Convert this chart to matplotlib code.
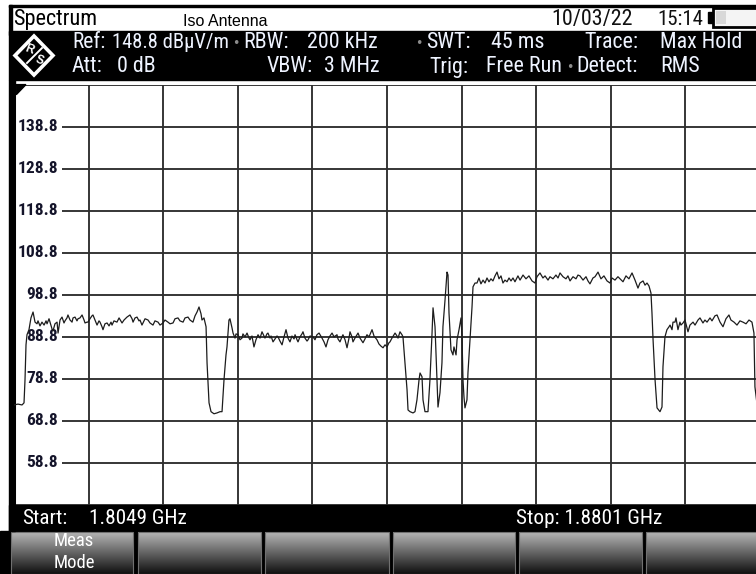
import numpy as np
import matplotlib
matplotlib.use("Agg")
import matplotlib.pyplot as plt
from matplotlib import font_manager
from matplotlib.patches import Rectangle, Polygon

# =====================================================================
# 1. DATA
# =====================================================================
start_ghz = 1.8049
stop_ghz = 1.8801
ref_level = 148.8
div_db = 10.0

# horizontal graticule levels (dBuV/m) and the labels shown on screen
grid_levels = [48.8, 58.8, 68.8, 78.8, 88.8, 98.8, 108.8, 118.8, 128.8, 138.8, 148.8]
level_labels = ["58.8", "68.8", "78.8", "88.8", "98.8", "108.8", "118.8", "128.8", "138.8"]

# Max Hold trace, frequency in MHz
trace_freq_mhz = [
    1804.90, 1805.30, 1805.71, 1805.91, 1806.01, 1806.11, 1806.21, 1806.41, 1806.61, 1806.82,
    1807.02, 1807.22, 1807.32, 1807.52, 1807.72, 1807.93, 1808.13, 1808.23, 1808.43, 1808.53,
    1808.73, 1808.83, 1809.03, 1809.24, 1809.34, 1809.54, 1809.74, 1809.94, 1810.04, 1810.24,
    1810.34, 1810.55, 1810.75, 1810.85, 1811.05, 1811.25, 1811.35, 1811.55, 1811.76, 1811.96,
    1812.06, 1812.26, 1812.36, 1812.56, 1812.76, 1812.86, 1813.07, 1813.27, 1813.47, 1813.57,
    1813.77, 1813.87, 1814.07, 1814.28, 1814.48, 1814.68, 1814.78, 1814.98, 1815.28, 1815.49,
    1815.79, 1815.99, 1816.29, 1816.59, 1816.80, 1816.90, 1817.10, 1817.30, 1817.50, 1817.60,
    1817.80, 1817.90, 1818.11, 1818.41, 1818.61, 1818.91, 1819.11, 1819.42, 1819.62, 1819.92,
    1820.12, 1820.42, 1820.63, 1820.93, 1821.13, 1821.43, 1821.63, 1821.94, 1822.14, 1822.44,
    1822.64, 1822.94, 1823.15, 1823.35, 1823.55, 1823.75, 1823.85, 1824.05, 1824.26, 1824.36,
    1824.56, 1824.76, 1825.06, 1825.36, 1825.67, 1825.87, 1826.07, 1826.27, 1826.37, 1826.57,
    1826.67, 1826.88, 1826.98, 1827.18, 1827.28, 1827.48, 1827.68, 1827.88, 1827.98, 1828.19,
    1828.39, 1828.59, 1828.69, 1828.89, 1829.09, 1829.29, 1829.50, 1829.70, 1829.90, 1830.10,
    1830.20, 1830.40, 1830.50, 1830.71, 1830.81, 1831.01, 1831.21, 1831.41, 1831.51, 1831.71,
    1831.92, 1832.12, 1832.32, 1832.52, 1832.72, 1832.92, 1833.13, 1833.23, 1833.43, 1833.53,
    1833.73, 1833.93, 1834.03, 1834.23, 1834.44, 1834.54, 1834.74, 1835.04, 1835.24, 1835.44,
    1835.65, 1835.95, 1836.15, 1836.35, 1836.55, 1836.75, 1836.96, 1837.16, 1837.46, 1837.56,
    1837.76, 1837.96, 1838.06, 1838.27, 1838.47, 1838.67, 1838.77, 1838.97, 1839.07, 1839.27,
    1839.58, 1839.78, 1840.08, 1840.28, 1840.48, 1840.69, 1840.99, 1841.19, 1841.49, 1841.69,
    1841.89, 1842.10, 1842.30, 1842.50, 1842.70, 1842.80, 1843.00, 1843.31, 1843.51, 1843.61,
    1843.81, 1844.01, 1844.11, 1844.31, 1844.52, 1844.62, 1844.82, 1845.12, 1845.32, 1845.52,
    1845.73, 1845.83, 1846.03, 1846.13, 1846.33, 1846.63, 1846.83, 1847.04, 1847.14, 1847.34,
    1847.54, 1847.64, 1847.84, 1848.04, 1848.14, 1848.35, 1848.55, 1848.65, 1848.75, 1848.95,
    1849.15, 1849.25, 1849.46, 1849.56, 1849.76, 1849.96, 1850.06, 1850.16, 1850.26, 1850.36,
    1850.56, 1850.66, 1850.87, 1851.07, 1851.17, 1851.37, 1851.57, 1851.77, 1851.97, 1852.18,
    1852.38, 1852.58, 1852.78, 1852.98, 1853.18, 1853.39, 1853.59, 1853.79, 1853.99, 1854.19,
    1854.39, 1854.60, 1854.80, 1855.00, 1855.20, 1855.40, 1855.70, 1855.91, 1856.21, 1856.51,
    1856.81, 1857.12, 1857.42, 1857.62, 1857.92, 1858.22, 1858.43, 1858.73, 1858.93, 1859.23,
    1859.53, 1859.74, 1859.94, 1860.24, 1860.54, 1860.74, 1860.95, 1861.25, 1861.55, 1861.75,
    1861.95, 1862.26, 1862.56, 1862.76, 1862.96, 1863.26, 1863.47, 1863.77, 1864.07, 1864.37,
    1864.68, 1864.98, 1865.18, 1865.48, 1865.78, 1865.99, 1866.29, 1866.59, 1866.89, 1867.20,
    1867.50, 1867.80, 1868.00, 1868.31, 1868.51, 1868.71, 1868.91, 1869.11, 1869.21, 1869.32,
    1869.52, 1869.72, 1870.02, 1870.22, 1870.32, 1870.52, 1870.72, 1870.93, 1871.03, 1871.23,
    1871.33, 1871.53, 1871.63, 1871.83, 1872.03, 1872.13, 1872.34, 1872.54, 1872.84, 1873.04,
    1873.35, 1873.55, 1873.85, 1874.05, 1874.35, 1874.55, 1874.76, 1875.06, 1875.26, 1875.56,
    1875.77, 1876.07, 1876.37, 1876.67, 1876.97, 1877.17, 1877.48, 1877.78, 1878.08, 1878.38,
    1878.69, 1878.99, 1879.29, 1879.49, 1879.59, 1879.80, 1879.99,
]

# level in dBuV/m, same order as trace_freq_mhz
trace_level = [
    72.6, 72.8, 72.6, 73.1, 78.6, 86.9, 89.3, 90.5, 93.3, 94.7,
    92.3, 91.9, 92.6, 91.4, 92.3, 91.6, 92.6, 91.9, 93.1, 92.3,
    90.7, 90.2, 91.9, 92.3, 89.7, 92.8, 93.5, 92.1, 92.6, 93.3,
    94.0, 92.8, 92.3, 93.3, 93.5, 92.6, 93.1, 93.3, 94.0, 92.8,
    92.1, 92.3, 92.3, 93.1, 93.8, 94.0, 92.8, 91.6, 92.6, 92.3,
    91.2, 90.5, 91.9, 92.1, 91.4, 92.3, 91.6, 92.6, 92.3, 93.3,
    92.1, 92.8, 93.5, 94.0, 93.1, 92.3, 93.3, 93.5, 92.6, 92.8,
    91.6, 92.1, 93.1, 92.8, 92.1, 91.6, 92.6, 92.3, 91.6, 92.1,
    92.8, 92.3, 91.9, 92.1, 93.1, 93.3, 92.6, 92.3, 93.3, 93.5,
    92.8, 92.3, 93.8, 94.7, 95.9, 94.3, 92.8, 93.3, 91.2, 82.6,
    73.1, 71.0, 70.5, 70.7, 71.0, 71.0, 78.6, 84.5, 86.4, 92.8,
    93.1, 90.9, 89.7, 88.5, 89.5, 89.3, 88.1, 88.5, 89.5, 88.8,
    89.7, 88.5, 88.1, 89.0, 86.4, 88.1, 89.3, 88.5, 90.0, 89.0,
    88.5, 89.5, 89.7, 88.5, 89.0, 87.6, 88.3, 89.0, 88.8, 87.8,
    86.9, 88.8, 90.5, 88.5, 87.6, 89.0, 88.3, 89.3, 88.1, 87.6,
    88.8, 89.5, 90.0, 88.5, 87.8, 88.1, 89.0, 88.8, 88.1, 89.3,
    89.7, 88.5, 87.6, 86.4, 88.1, 89.0, 89.7, 88.8, 89.3, 88.3,
    87.6, 88.8, 89.3, 88.1, 86.2, 88.5, 90.0, 88.8, 87.6, 88.5,
    89.7, 88.5, 87.4, 88.3, 89.3, 88.8, 90.5, 89.0, 88.1, 87.1,
    86.6, 86.2, 86.9, 86.4, 87.4, 87.6, 88.5, 89.7, 89.0, 88.5,
    90.0, 89.3, 88.8, 82.6, 76.2, 71.4, 71.0, 70.7, 71.0, 73.8,
    78.6, 80.2, 79.3, 73.8, 71.0, 71.0, 78.6, 89.7, 95.7, 91.2,
    78.6, 72.1, 75.5, 82.6, 91.2, 97.6, 104.2, 103.5, 94.5, 85.7,
    84.5, 86.4, 84.5, 88.1, 90.5, 93.3, 88.8, 78.6, 74.5, 71.9,
    73.8, 80.2, 88.1, 95.9, 100.7, 101.6, 101.6, 102.8, 101.4, 102.3,
    101.6, 102.8, 101.9, 102.6, 102.1, 103.3, 104.2, 102.6, 103.3, 101.6,
    102.3, 101.9, 102.8, 102.1, 102.8, 101.9, 103.3, 102.3, 103.5, 102.6,
    103.3, 102.1, 101.6, 103.1, 104.0, 102.8, 103.3, 102.3, 103.1, 102.6,
    103.5, 102.8, 104.0, 103.1, 102.6, 103.3, 102.1, 103.1, 102.6, 103.5,
    103.3, 102.3, 103.1, 102.1, 101.4, 102.8, 103.1, 104.2, 102.6, 103.3,
    102.1, 101.6, 102.8, 102.3, 103.1, 102.6, 101.9, 103.3, 102.6, 104.0,
    102.3, 100.4, 101.6, 102.1, 101.1, 101.6, 100.9, 99.2, 94.5, 88.1,
    78.6, 71.9, 71.0, 72.1, 81.7, 88.8, 90.5, 91.2, 91.6, 90.5,
    92.3, 92.3, 93.3, 90.5, 92.3, 91.6, 92.1, 92.8, 90.0, 91.6,
    92.3, 91.6, 92.8, 93.3, 92.1, 92.8, 92.3, 93.3, 92.6, 93.8,
    94.0, 92.3, 91.2, 93.1, 94.0, 92.8, 92.3, 91.6, 92.6, 92.3,
    91.9, 92.8, 92.3, 89.7, 76.9, 72.8, 72.6,
]

# =====================================================================
# 2. FONTS AND SCREEN GEOMETRY (pixels of the 756x574 screenshot)
# =====================================================================
installed = {f.name for f in font_manager.fontManager.ttflist}
NARROW, SCALE = "Liberation Sans", 0.93
for name in ["Liberation Sans Narrow", "Roboto Condensed", "Arial Narrow"]:
    if name in installed:
        NARROW, SCALE = name, 1.0
        break
REGULAR = "Liberation Sans"

W, H = 756, 574
PLOT_L, PLOT_R, PLOT_T, PLOT_B = 14, 760, 84.6, 505

fig = plt.figure(figsize=(W / 100, H / 100), dpi=100)
fig.patch.set_facecolor("white")

# overlay in pixel coordinates for the instrument frame
deco = fig.add_axes([0, 0, 1, 1], zorder=0)
deco.axis("off")


def label(x, y, s, size, color="white", family=None, ha="left", weight="normal"):
    deco.text(x, y, s, fontsize=size * SCALE if family in (None, NARROW) else size,
              color=color, family=family or NARROW, ha=ha, va="center", weight=weight)


# title strip
deco.add_patch(Rectangle((9, 4.5), W, 2.5, color="black"))
deco.add_patch(Rectangle((9, 4.5), 2.8, 30, color="black"))
label(13, 19.5, "Spectrum", 16, color="black")
label(183, 22, "Iso Antenna", 11.5, color="black", family=REGULAR)
label(551, 19.5, "10/03/22", 15.8, color="#111111")
label(657, 19.5, "15:14", 15.0, color="#111111")
deco.add_patch(Rectangle((708, 12), 5, 11, color="black"))
deco.add_patch(Rectangle((713, 8), 50, 19, facecolor="#f4f4f4", edgecolor="black", lw=2))
deco.add_patch(Rectangle((716, 11), 10, 13, facecolor="#d8d8d8", edgecolor="none"))

# black settings header
deco.add_patch(Rectangle((9, 31), W, 49, color="black"))
deco.add_patch(Polygon([(34, 36), (53, 55.5), (34, 75), (15, 55.5)], closed=True,
                       facecolor="black", edgecolor="white", lw=2.6))
deco.text(29, 50, "R", fontsize=8.5, color="white", weight="bold", family=REGULAR,
          ha="center", va="center", rotation=-20)
deco.text(39.5, 61, "S", fontsize=8.5, color="white", weight="bold", family=REGULAR,
          ha="center", va="center", rotation=-20)
deco.plot([27, 42], [63, 48], color="white", lw=1.4)

TXT = "#eef3ff"
DOT = "#8c8c8c"
row1, row2 = 43, 67
label(72, row1, "Ref:", 15.5, color=TXT)
label(112, row1, "148.8 dBµV/m", 14.8, color=TXT)
for s, x in [("RBW:", 243), ("200 kHz", 307), ("SWT:", 426), ("45 ms", 491),
             ("Trace:", 584), ("Max Hold", 660)]:
    label(x, row1, s, 15.8, color=TXT)
for s, x in [("Att:", 72), ("0 dB", 117), ("VBW:", 267), ("3 MHz", 324),
             ("Trig:", 429), ("Free Run", 486), ("Detect:", 576), ("RMS", 660)]:
    label(x, row2, s, 15.8, color=TXT)
for x, y in [(236, row1), (419, row1), (570, row2)]:
    deco.text(x, y, "\u2022", fontsize=9, color=DOT, ha="center", va="center")

# start / stop bar
deco.add_patch(Rectangle((9, PLOT_B), W, 26, color="black"))
label(22, 518, "Start:", 15.3)
label(89, 518, f"{start_ghz:.4f} GHz", 15.3)
label(516, 518, f"Stop: {stop_ghz:.4f} GHz", 15.3)

# soft key row
deco.add_patch(Rectangle((0, 531), W, 43, color="black"))
grad = np.linspace(0, 1, 64).reshape(-1, 1)
for x0, x1 in [(11, 133), (138, 261), (265, 389), (393, 515), (519, 642), (646, 760)]:
    deco.imshow(grad, cmap="gray_r", vmin=-0.45, vmax=1.1, aspect="auto",
                extent=(x0, x1, 574, 532), zorder=1)
    deco.add_patch(Rectangle((x0, 532), x1 - x0, 42, fill=False, edgecolor="#707070",
                             lw=0.8, zorder=2))
label(74, 541, "Meas", 13.5, ha="center")
label(74, 563, "Mode", 13.5, ha="center")

# left frame edge beside the trace window
deco.add_patch(Rectangle((9, 80), 6, 451, color="black", zorder=3))
deco.set_xlim(0, W)
deco.set_ylim(H, 0)

# =====================================================================
# 3. TRACE WINDOW
# =====================================================================
ax = fig.add_axes([PLOT_L / W, 1 - PLOT_B / H, (PLOT_R - PLOT_L) / W,
                   (PLOT_B - PLOT_T) / H], zorder=1)
ax.set_facecolor("white")
ax.set_xlim(start_ghz * 1000, stop_ghz * 1000)
ax.set_ylim(ref_level - 10 * div_db, ref_level)

ax.set_xticks(np.linspace(start_ghz * 1000, stop_ghz * 1000, 11))
ax.set_yticks(grid_levels)
ax.tick_params(length=0, labelbottom=False, labelleft=False)
ax.set_axisbelow(True)
ax.grid(True, color="#2e2e2e", lw=1.35)

for side in ["top", "right", "bottom"]:
    ax.spines[side].set_visible(False)
ax.spines["left"].set_color("black")
ax.spines["left"].set_linewidth(2.2)

# level labels sit on the graticule with a white patch behind them
ytrans = ax.get_yaxis_transform()
label_right = (58 - PLOT_L) / (PLOT_R - PLOT_L)
mask_right = (62 - PLOT_L) / (PLOT_R - PLOT_L)
for s in level_labels:
    ax.add_patch(Rectangle((0.002, float(s) - 2.0), mask_right - 0.002, 4.0,
                           transform=ytrans, facecolor="white", edgecolor="none", zorder=1.8))
    ax.text(label_right, float(s), s, transform=ytrans, ha="right", va="center",
            fontsize=12.5 * SCALE, family=NARROW, weight="bold", color="#14142a", zorder=2)

# reference-level marker in the top left corner
ax.fill([0.003, 0.016, 0.003], [1.0, 1.0, 0.976], color="black",
        transform=ax.transAxes, clip_on=False, zorder=4)

ax.plot(trace_freq_mhz, trace_level, color="#1c1c1c", lw=0.9, zorder=3)

fig.savefig("out.png", dpi=100)
